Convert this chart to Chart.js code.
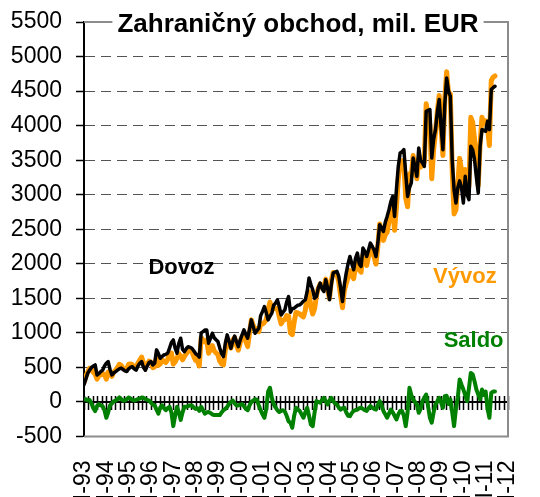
<!DOCTYPE html>
<html lang="sk">
<head>
<meta charset="UTF-8">
<title>Zahraničný obchod, mil. EUR</title>
<script src="https://cdn.jsdelivr.net/npm/chart.js"></script>
<style>
  body { margin: 0; background: #fff; }
</style>
</head>
<body>
<canvas id="myChart" width="540" height="497"></canvas>
<script>
// mesačné údaje od I-93 (mil. EUR), odčítané z grafu
const xLabels = ['I-93', 'I-94', 'I-95', 'I-96', 'I-97', 'I-98', 'I-99', 'I-00', 'I-01', 'I-02',
                 'I-03', 'I-04', 'I-05', 'I-06', 'I-07', 'I-08', 'I-09', 'I-10', 'I-11', 'I-12'];

const dovoz = [
  250, 330, 416, 460, 500, 520, 536, 391, 410, 440, 460, 520,
  560, 584, 470, 391, 420, 440, 460, 480, 490, 470, 450, 440,
  480, 500, 510, 480, 460, 520, 560, 584, 500, 460, 520, 570,
  584, 536, 560, 754, 700, 632, 660, 680, 690, 705, 780, 860,
  898, 780, 705, 850, 923, 760, 729, 770, 800, 790, 777, 740,
  700, 680, 650, 1000, 1019, 1040, 1043, 850, 920, 995, 930, 900,
  874, 780, 700, 657, 850, 971, 880, 778, 880, 953, 870, 801,
  900, 971, 1043, 980, 922, 1050, 1188, 1090, 995, 1030, 1067, 1250,
  1309, 1381, 1290, 1188, 1240, 1285, 1400, 1430, 1478, 1380, 1260, 1300,
  1333, 1450, 1526, 1300, 1350, 1357, 1380, 1400, 1405, 1430, 1460, 1478,
  1600, 1793, 1700, 1623, 1500, 1526, 1650, 1720, 1640, 1600, 1768, 1650,
  1478, 1700, 1865, 1880, 1890, 1817, 1650, 1454, 1700, 1865, 2000, 2106,
  2000, 1914, 2080, 2155, 2000, 1962, 2227, 2180, 2106, 2200, 2300, 2251,
  2200, 2106, 2300, 2565, 2520, 2469, 2600, 2686, 2783, 2900, 2975, 2686,
  3072, 3410, 3604, 3620, 3652, 3300, 2975, 3100, 3170, 3531, 3400, 3266,
  3676, 3500, 3459, 3410, 4207, 4220, 4232, 3531, 3800, 3942, 4200, 4377,
  3990, 3652, 4300, 4691, 4500, 4425, 3500, 3072, 2880, 3100, 3200, 3100,
  2880, 3266, 3000, 2928, 3700, 3650, 3507, 3250, 3024, 3700, 3942, 3930,
  3918, 4062, 3942, 4522, 4550, 4570
];

const vyvoz = [
  286, 370, 436, 489, 480, 430, 403, 331, 380, 390, 400, 400,
  331, 434, 420, 371, 430, 460, 500, 545, 530, 490, 470, 480,
  545, 550, 540, 500, 490, 560, 610, 649, 560, 500, 550, 590,
  574, 496, 510, 644, 530, 552, 610, 590, 570, 615, 710, 710,
  548, 580, 635, 700, 663, 610, 659, 700, 740, 740, 727, 660,
  600, 590, 520, 930, 899, 870, 893, 705, 760, 815, 740, 710,
  684, 590, 550, 537, 750, 901, 850, 778, 900, 933, 820, 751,
  860, 941, 983, 880, 802, 1000, 1188, 1110, 1035, 1060, 1017, 1130,
  1129, 1151, 1190, 1338, 1446, 1345, 1370, 1350, 1358, 1235, 1130, 1180,
  1193, 1250, 1246, 1000, 976, 1157, 1296, 1290, 1275, 1250, 1231, 1328,
  1516, 1593, 1374, 1273, 1350, 1538, 1650, 1708, 1670, 1660, 1778, 1614,
  1498, 1760, 1875, 1860, 1854, 1737, 1540, 1364, 1616, 1715, 1800, 1901,
  1840, 1784, 1960, 2045, 1910, 1878, 2127, 2060, 1976, 2110, 2240, 2171,
  2100, 1996, 2250, 2577, 2470, 2339, 2420, 2457, 2613, 2790, 2825, 2486,
  2819, 3230, 3474, 3490, 3452, 2950, 2825, 3305, 3270, 3567, 3400, 3230,
  3519, 3400, 3471, 3470, 4315, 4160, 4003, 3231, 3650, 3906, 4210, 4437,
  3980, 3568, 4384, 4781, 4470, 4461, 3350, 2722, 2780, 3160, 3526, 3350,
  3060, 3366, 3012, 3128, 4120, 4050, 3807, 3430, 3132, 3740, 4122, 4030,
  4068, 3962, 3713, 4652, 4700, 4720
];

const saldo = [
  36, 40, 20, 29, -20, -90, -133, -60, -30, -50, -60, -120,
  -229, -150, -50, -20, 10, 20, 40, 65, 40, 20, 20, 40,
  65, 50, 30, 20, 30, 40, 50, 65, 60, 40, 30, 20,
  -10, -40, -50, -110, -170, -80, -50, -90, -120, -90, -70, -150,
  -350, -200, -70, -150, -260, -150, -70, -70, -60, -50, -50, -80,
  -100, -90, -130, -70, -120, -170, -150, -145, -160, -180, -190, -190,
  -190, -190, -150, -120, -100, -70, -30, 0, 20, -20, -50, -50,
  -40, -30, -60, -100, -120, -50, 0, 20, 40, 30, -50, -120,
  -180, -230, -100, 150, 206, 60, -30, -80, -120, -145, -130, -120,
  -140, -200, -280, -300, -374, -200, -84, -110, -130, -180, -229, -150,
  -84, -200, -326, -350, -150, 12, 0, -12, 30, 60, 10, -36,
  20, 60, 10, -20, -36, -80, -110, -90, -84, -150, -200, -205,
  -160, -130, -120, -110, -90, -84, -100, -120, -130, -90, -60, -80,
  -100, -110, -50, 12, -50, -130, -180, -229, -170, -110, -150, -200,
  -253, -180, -130, -130, -200, -350, -150, 205, 100, 36, 0, -36,
  -157, -100, 12, 60, 108, -60, -229, -300, -150, -36, 10, 60,
  -10, -84, 84, 90, -30, 36, -150, -350, -100, 60, 326, 250,
  180, 100, 12, 200, 420, 400, 300, 180, 108, 40, 180, 100,
  150, -100, -229, 130, 150, 150
];

const zeroTickStep = 2.4; // rozostup značiek na nulovej osi (mesiace)
const FONT = 'Liberation Sans, Arial, sans-serif';

Chart.defaults.font.family = FONT;
Chart.defaults.color = '#000';

const pts = arr => arr.map((v, i) => ({x: i, y: v}));

// nulová os so značkami, rámik, nadpis a popisy radov
const decor = {
  id: 'decor',
  beforeDatasetsDraw(chart) {
    const {ctx, chartArea: a, scales: {x, y}} = chart;
    const y0 = Math.round(y.getPixelForValue(0));
    ctx.save();
    ctx.strokeStyle = '#000';
    ctx.lineWidth = 1.5;
    ctx.beginPath();
    for (let m = 0; m <= x.max + 0.01; m += zeroTickStep) {
      const px = Math.round(x.getPixelForValue(m)) + 0.5;
      ctx.moveTo(px, y0 - 6);
      ctx.lineTo(px, y0 + 8);
    }
    ctx.stroke();
    ctx.lineWidth = 2;
    ctx.beginPath();
    ctx.moveTo(a.left, y0);
    ctx.lineTo(a.right, y0);
    ctx.stroke();
    ctx.restore();
  },
  afterDraw(chart) {
    const {ctx, chartArea: a, scales: {x, y}} = chart;
    ctx.save();
    ctx.strokeStyle = '#8c8c8c';
    ctx.lineWidth = 2;
    ctx.beginPath();
    ctx.moveTo(a.left, a.top);
    ctx.lineTo(a.right, a.top);
    ctx.lineTo(a.right, a.bottom);
    ctx.lineTo(a.left, a.bottom);
    ctx.stroke();

    // nadpis cez horný okraj
    const title = 'Zahraničný obchod, mil. EUR';
    ctx.font = 'bold 26px ' + FONT;
    const w = ctx.measureText(title).width;
    const cx = (a.left + a.right) / 2 + 2;
    ctx.fillStyle = '#fff';
    ctx.fillRect(cx - w / 2 - 5, a.top - 5, w + 10, 10);
    ctx.fillStyle = '#000';
    ctx.textAlign = 'center';
    ctx.textBaseline = 'alphabetic';
    ctx.fillText(title, cx, 32);

    const labels = [
      {text: 'Dovoz', color: '#000000', m: 52.4, v: 1855},
      {text: 'Vývoz', color: '#FF9900', m: 204.8, v: 1725},
      {text: 'Saldo', color: '#008000', m: 209.5, v: 801}
    ];
    ctx.font = 'bold 22px ' + FONT;
    labels.forEach(l => {
      ctx.fillStyle = l.color;
      ctx.fillText(l.text, x.getPixelForValue(l.m), y.getPixelForValue(l.v));
    });
    ctx.restore();
  }
};

const ctx = document.getElementById('myChart').getContext('2d');
new Chart(ctx, {
  type: 'line',
  data: {
    datasets: [
      {
        label: 'Dovoz',
        data: pts(dovoz),
        borderColor: '#000000',
        borderWidth: 3.5,
        pointRadius: 0,
        borderJoinStyle: 'round',
        borderCapStyle: 'round'
      },
      {
        label: 'Saldo',
        data: pts(saldo),
        borderColor: '#008000',
        borderWidth: 4,
        pointRadius: 0,
        borderJoinStyle: 'round',
        borderCapStyle: 'round'
      },
      {
        label: 'Vývoz',
        data: pts(vyvoz),
        borderColor: '#FF9900',
        borderWidth: 5,
        pointRadius: 0,
        borderJoinStyle: 'round',
        borderCapStyle: 'round'
      }
    ]
  },
  options: {
    responsive: false,
    animation: false,
    devicePixelRatio: 1,
    layout: { padding: { left: 0, top: 22, right: 32, bottom: 0 } },
    plugins: {
      legend: { display: false },
      tooltip: { enabled: false },
      title: { display: false }
    },
    scales: {
      x: {
        type: 'linear',
        min: 0,
        max: 228,
        grid: { display: false, drawTicks: false },
        border: { display: false },
        ticks: {
          stepSize: 12,
          autoSkip: false,
          minRotation: 90,
          maxRotation: 90,
          padding: 24,
          font: { size: 23 },
          color: '#000',
          callback: v => xLabels[v / 12]
        },
        afterFit: s => {
          s.height = 60.5;
          s.paddingLeft = 0;
          s.paddingRight = 0;
        }
      },
      y: {
        min: -500,
        max: 5500,
        grid: {
          color: c => [0, -500, 5500].includes(c.tick.value) ? 'rgba(0,0,0,0)' : '#555555',
          lineWidth: 1,
          tickLength: 8,
          tickColor: '#000',
          tickWidth: 1.5
        },
        border: { display: true, color: '#000', width: 2, dash: [10, 6] },
        ticks: {
          stepSize: 500,
          padding: 14,
          font: { size: 23 },
          color: '#000',
          callback: v => String(v)
        },
        afterFit: s => {
          s.width = 84;
          s.paddingTop = 0;
          s.paddingBottom = 0;
        }
      }
    }
  },
  plugins: [decor]
});
</script>
</body>
</html>
